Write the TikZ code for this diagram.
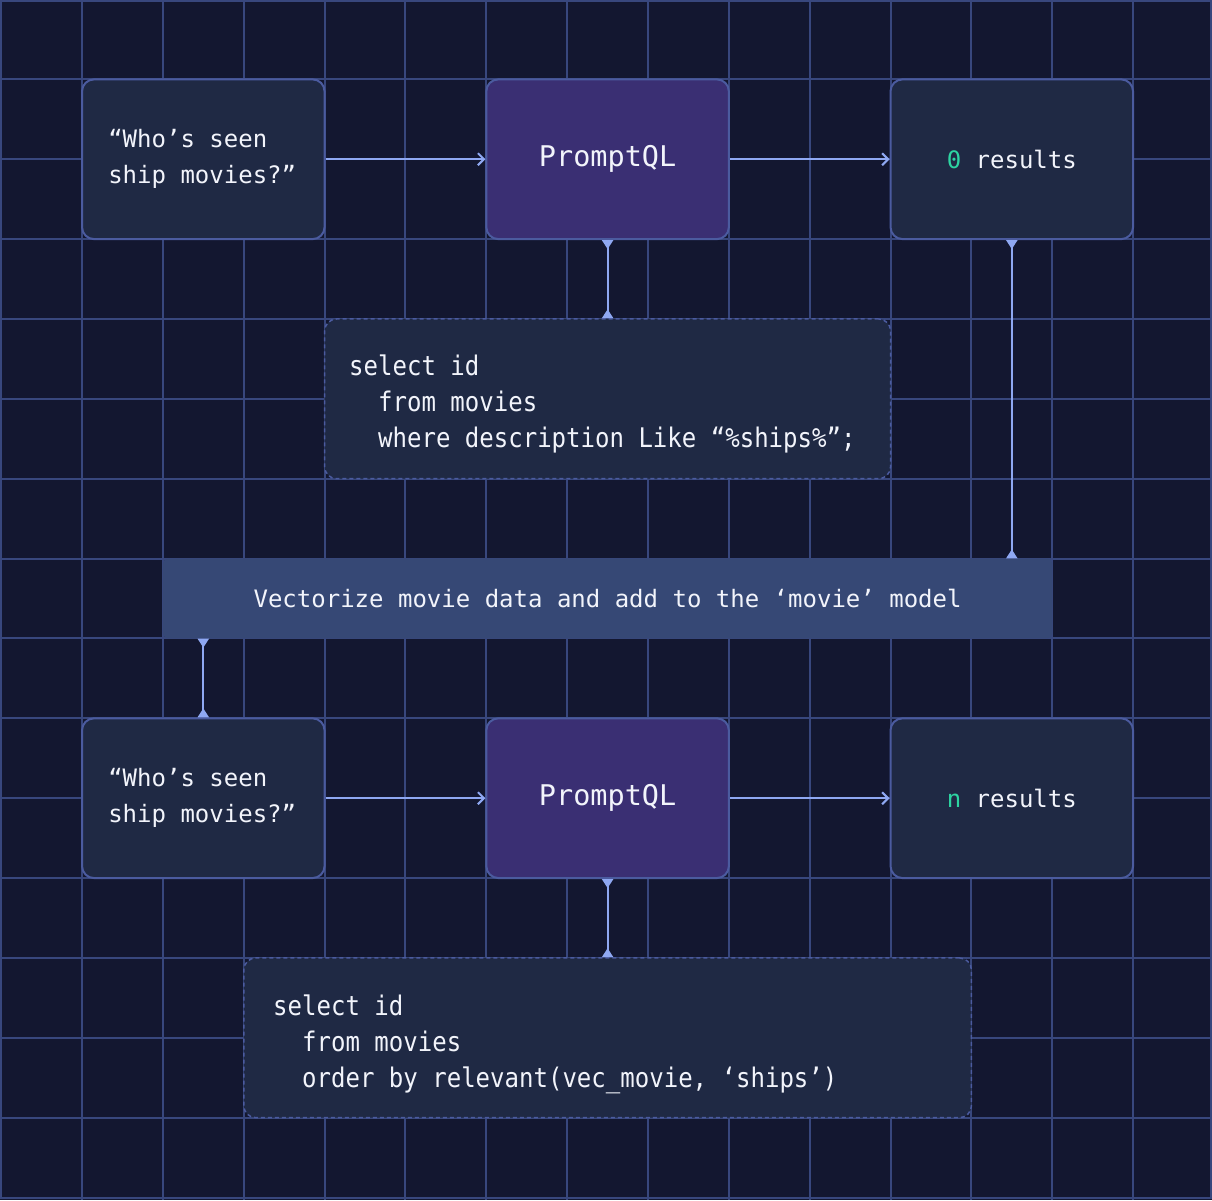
\documentclass[tikz,border=0pt]{standalone}
\usepackage{fontspec}
\setmonofont{DejaVu Sans Mono}
\newfontfamily\sqlfont[FakeStretch=0.89]{DejaVu Sans Mono}
\usetikzlibrary{arrows.meta}
\definecolor{bgc}{HTML}{131730}
\definecolor{gridc}{HTML}{38477D}
\definecolor{borderc}{HTML}{4B5B9F}
\definecolor{cardc}{HTML}{1F2944}
\definecolor{purplec}{HTML}{3A2F73}
\definecolor{vectc}{HTML}{364875}
\definecolor{arrowc}{HTML}{8FA8F2}
\definecolor{greenc}{HTML}{2DD4A2}
\definecolor{txtc}{HTML}{F2F4FB}
\tikzset{
  gridline/.style={draw=gridc, line width=2pt},
  card/.style={draw=borderc, fill=cardc, line width=2pt, rounded corners=12pt,
    minimum width=242.55pt, minimum height=159.74pt, inner sep=0pt, text=txtc,
    font=\ttfamily\fontsize{24}{36}\selectfont, align=left},
  engine/.style={card, fill=purplec, font=\ttfamily\fontsize{28.5}{34}\selectfont},
  codebox/.style={draw=borderc, fill=cardc, line width=1.5pt, dash pattern=on 4pt off 3pt,
    rounded corners=12pt, minimum height=159.74pt, inner sep=0pt},
  codetext/.style={anchor=west, inner sep=0pt, text=txtc,
    font=\sqlfont\fontsize{27}{36}\selectfont, align=left},
  bar/.style={fill=vectc, rounded corners=5pt, minimum width=889.35pt, minimum height=79.87pt,
    inner sep=0pt, text=txtc, font=\ttfamily\fontsize{24}{30}\selectfont},
  flow/.style={draw=arrowc, line width=2pt, -{Straight Barb[length=6pt,width=12pt,line width=2pt]}},
  link/.style={draw=arrowc, line width=2pt,
    {Triangle[reversed,length=9pt,width=11pt]}-{Triangle[reversed,length=9pt,width=11pt]}},
}
\begin{document}
\begin{tikzpicture}[x=1pt,y=-1pt]
\useasboundingbox (0,0) rectangle (1212,1200);
\fill[bgc] (0,0) rectangle (1212,1200);
% grid
\foreach \k in {1,...,14} {
  \draw[gridline] ({1.2+80.85*\k},0) -- ++(0,1200);
  \draw[gridline] (0,{-0.5+79.87*\k}) -- ++(1212,0);
}
\draw[gridline] (1,1) rectangle (1211,1198);

% top row
\node[card] (q1) at (203.3,159.24) {\raisebox{-2pt}{\parbox{190pt}{“Who’s seen\\ship movies?”}}};
\node[engine] (p1) at (607.6,159.24) {PromptQL};
\node[card] (r1) at (1011.8,159.24) {\textcolor{greenc}{0} results};

% first SQL
\node[codebox, minimum width=565.95pt] (s1) at (607.6,398.85) {};
\node[codetext] (s1t) at (349,404) {select id\\\phantom{xx}from movies\\\phantom{xx}where description Like “\%ships\%”;};

% vectorize bar
\node[bar] (v) at (607.6,598.5) {Vectorize movie data and add to the ‘movie’ model};

% bottom row
\node[card] (q2) at (203.3,798.2) {\raisebox{-2pt}{\parbox{190pt}{“Who’s seen\\ship movies?”}}};
\node[engine] (p2) at (607.6,798.2) {PromptQL};
\node[card] (r2) at (1011.8,798.2) {\textcolor{greenc}{n} results};

% second SQL
\node[codebox, minimum width=727.65pt] (s2) at (607.6,1037.8) {};
\node[codetext] (s2t) at (273,1044) {select id\\\phantom{xx}from movies\\\phantom{xx}order by relevant(vec\_movie, ‘ships’)};

% connectors
\draw[flow] (q1.east) -- (p1.west);
\draw[flow] (p1.east) -- (r1.west);
\draw[link] (p1.south) -- (s1.north);
\draw[link] (r1.south) -- (r1.south |- v.north);
\draw[link] (q2.north |- v.south) -- (q2.north);
\draw[flow] (q2.east) -- (p2.west);
\draw[flow] (p2.east) -- (r2.west);
\draw[link] (p2.south) -- (s2.north);
\end{tikzpicture}
\end{document}
